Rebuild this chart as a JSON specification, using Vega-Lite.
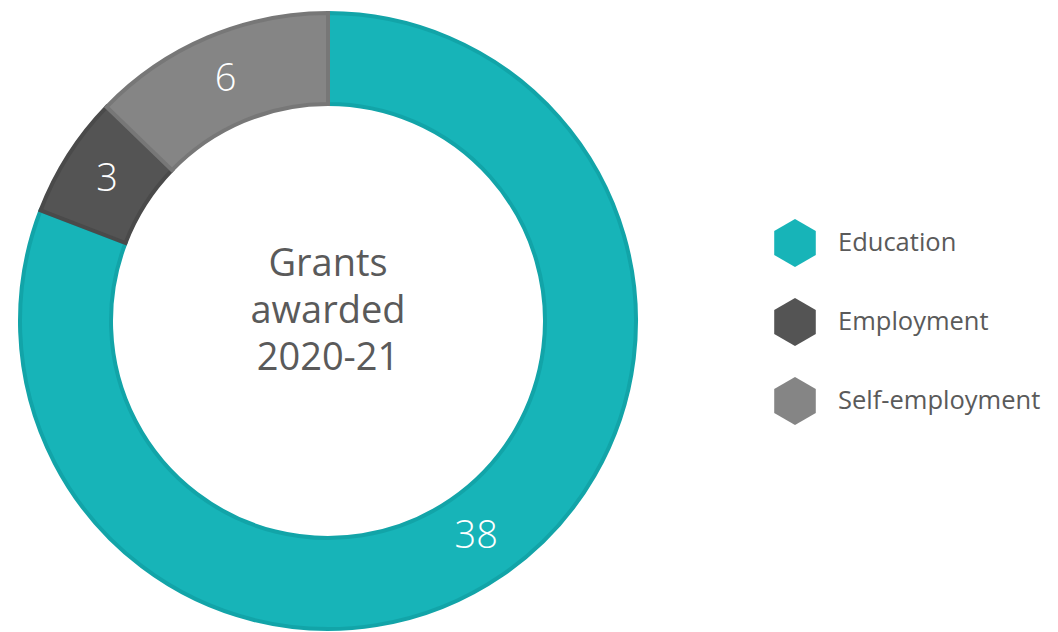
{
  "$schema": "https://vega.github.io/schema/vega-lite/v6.json",
  "width": 656,
  "height": 642,
  "padding": 0,
  "background": "white",
  "config": {"view": {"stroke": null}, "font": "Open Sans"},
  "layer": [
    {
      "data": {"values": [
        {"category": "Education", "grants": 38},
        {"category": "Employment", "grants": 3},
        {"category": "Self-employment", "grants": 6}
      ]},
      "encoding": {
        "theta": {"field": "grants", "type": "quantitative", "stack": true},
        "order": {"field": "category", "type": "nominal", "sort": "ascending"}
      },
      "layer": [
        {
          "mark": {"type": "arc", "innerRadius": 217, "outerRadius": 308, "strokeWidth": 4},
          "encoding": {
            "color": {
              "field": "category", "type": "nominal",
              "scale": {"domain": ["Education", "Employment", "Self-employment"], "range": ["#17B4B8", "#545454", "#858585"]},
              "legend": {
                "title": null,
                "orient": "none",
                "legendX": 771,
                "legendY": 219,
                "padding": 0,
                "symbolType": "M0,-1L0.866,-0.5L0.866,0.5L0,1L-0.866,0.5L-0.866,-0.5Z",
                "symbolSize": 2304,
                "symbolStrokeWidth": 0,
                "symbolOpacity": 1,
                "labelFont": "Open Sans",
                "labelFontSize": 25.5,
                "labelFontWeight": 400,
                "labelColor": "#5a5a5a",
                "labelOffset": 19,
                "labelLimit": 0,
                "rowPadding": 31
              }
            },
            "stroke": {
              "field": "category", "type": "nominal",
              "scale": {"domain": ["Education", "Employment", "Self-employment"], "range": ["#12A4A8", "#4A4A4A", "#777777"]},
              "legend": null
            }
          }
        },
        {
          "mark": {"type": "text", "radius": 262, "fontSize": 38, "fontWeight": 300, "color": "white", "font": "Open Sans", "baseline": "middle", "align": "center"},
          "encoding": {
            "text": {"field": "grants", "type": "quantitative"}
          }
        }
      ]
    },
    {
      "data": {"values": [{"label": "Grants\nawarded\n2020-21"}]},
      "mark": {"type": "text", "lineBreak": "\n", "lineHeight": 47, "fontSize": 38, "fontWeight": 400, "color": "#5a5a5a", "font": "Open Sans", "align": "center", "baseline": "middle", "dy": -56},
      "encoding": {
        "text": {"field": "label", "type": "nominal"}
      }
    }
  ]
}
